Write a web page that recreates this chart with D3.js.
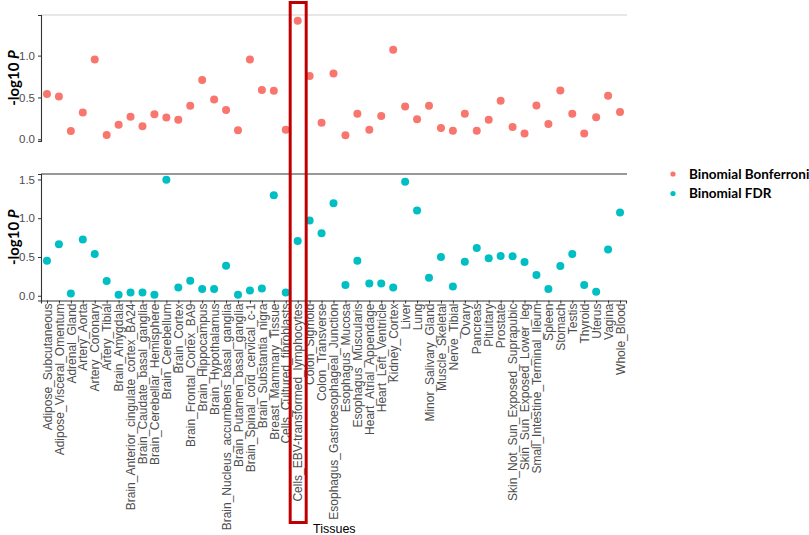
<!DOCTYPE html>
<html>
<head>
<meta charset="utf-8">
<script src="https://cdn.jsdelivr.net/npm/d3@7"></script>
<style>
  body { margin: 0; background: #fff; }
  svg { display: block; }
</style>
</head>
<body>
<svg id="chart"></svg>
<script>
// Tissue names along the x axis
const tissues = [
  "Adipose_Subcutaneous", "Adipose_Visceral_Omentum", "Adrenal_Gland", "Artery_Aorta",
  "Artery_Coronary", "Artery_Tibial", "Brain_Amygdala", "Brain_Anterior_cingulate_cortex_BA24",
  "Brain_Caudate_basal_ganglia", "Brain_Cerebellar_Hemisphere", "Brain_Cerebellum", "Brain_Cortex",
  "Brain_Frontal_Cortex_BA9", "Brain_Hippocampus", "Brain_Hypothalamus",
  "Brain_Nucleus_accumbens_basal_ganglia", "Brain_Putamen_basal_ganglia",
  "Brain_Spinal_cord_cervical_c-1", "Brain_Substantia_nigra", "Breast_Mammary_Tissue",
  "Cells_Cultured_fibroblasts", "Cells_EBV-transformed_lymphocytes", "Colon_Sigmoid",
  "Colon_Transverse", "Esophagus_Gastroesophageal_Junction", "Esophagus_Mucosa",
  "Esophagus_Muscularis", "Heart_Atrial_Appendage", "Heart_Left_Ventricle", "Kidney_Cortex",
  "Liver", "Lung", "Minor_Salivary_Gland", "Muscle_Skeletal", "Nerve_Tibial", "Ovary",
  "Pancreas", "Pituitary", "Prostate", "Skin_Not_Sun_Exposed_Suprapubic",
  "Skin_Sun_Exposed_Lower_leg", "Small_Intestine_Terminal_Ileum", "Spleen", "Stomach",
  "Testis", "Thyroid", "Uterus", "Vagina", "Whole_Blood"
];

// -log10 P, Binomial Bonferroni (top panel)
const bonferroni = [
  0.54, 0.51, 0.10, 0.32, 0.955, 0.05, 0.175, 0.27, 0.155, 0.30,
  0.26, 0.235, 0.40, 0.71, 0.476, 0.35, 0.107, 0.955, 0.59, 0.58,
  0.115, 1.417, 0.757, 0.198, 0.786, 0.048, 0.305, 0.115, 0.277, 1.07,
  0.393, 0.24, 0.40, 0.135, 0.103, 0.305, 0.103, 0.235, 0.46, 0.147,
  0.068, 0.405, 0.183, 0.584, 0.305, 0.068, 0.262, 0.52, 0.325
];

// -log10 P, Binomial FDR (bottom panel)
const fdr = [
  0.453, 0.664, 0.030, 0.724, 0.539, 0.19, 0.013, 0.043, 0.043, 0.013,
  1.496, 0.108, 0.194, 0.086, 0.086, 0.388, 0.013, 0.069, 0.095, 1.297,
  0.043, 0.707, 0.97, 0.806, 1.194, 0.138, 0.453, 0.159, 0.159, 0.108,
  1.47, 1.10, 0.233, 0.50, 0.121, 0.44, 0.616, 0.483, 0.513, 0.509,
  0.435, 0.267, 0.086, 0.384, 0.539, 0.138, 0.052, 0.595, 1.073
];

const yTicks = [0, 0.5, 1.0, 1.5];
const highlighted = "Cells_EBV-transformed_lymphocytes";
const seriesNames = ["Binomial Bonferroni", "Binomial FDR"];
const seriesColors = ["#F8766D", "#00BFC4"];

const W = 809, H = 535;
const svg = d3.select("#chart").attr("width", W).attr("height", H);

const left = 41, right = 626;
const panels = [
  { values: bonferroni, color: seriesColors[0], top: 15, bottom: 141, topLine: "#d0d0d0", xAxis: false },
  { values: fdr, color: seriesColors[1], top: 174, bottom: 300.5, topLine: "#333333", xAxis: true }
];

const x = d3.scalePoint().domain(tissues).range([left, right]).padding(0.5);

// ggplot-like 5% expansion of the data range
function expanded(vals) {
  const [lo, hi] = d3.extent(vals);
  const pad = (hi - lo) * 0.05;
  return [lo - pad, hi + pad];
}

const tickFont = "Liberation Sans, Arial, sans-serif";
const titleFont = "Lato, Open Sans, sans-serif";
const axisColor = "#333333";
const labelColor = "#4d4d4d";

panels.forEach(p => {
  const y = d3.scaleLinear().domain(expanded(p.values)).range([p.bottom, p.top]);
  const g = svg.append("g");

  // top border line of the panel
  g.append("line")
    .attr("x1", left).attr("x2", right + 1)
    .attr("y1", p.top).attr("y2", p.top)
    .attr("stroke", p.topLine).attr("stroke-width", 1.2);

  const dom = y.domain();
  const yAxis = g.append("g")
    .attr("transform", `translate(${left},0)`)
    .call(d3.axisLeft(y)
      .tickValues(yTicks.filter(t => t >= dom[0] && t <= dom[1]))
      .tickFormat(d3.format(".1f"))
      .tickSize(3).tickPadding(3));
  yAxis.select(".domain").attr("stroke", axisColor).attr("stroke-width", 1.1);
  yAxis.selectAll(".tick line").attr("stroke", axisColor);
  yAxis.selectAll(".tick text")
    .attr("fill", labelColor)
    .style("font-family", tickFont)
    .style("font-size", "11.5px");

  if (p.xAxis) {
    const xAxis = g.append("g")
      .attr("transform", `translate(0,${p.bottom})`)
      .call(d3.axisBottom(x).tickSize(3).tickPadding(2));
    xAxis.select(".domain").attr("stroke", axisColor).attr("stroke-width", 1.1);
    xAxis.selectAll(".tick line").attr("stroke", axisColor);
    xAxis.selectAll(".tick text")
      .attr("fill", labelColor)
      .style("font-family", tickFont)
      .style("font-size", "12px")
      .attr("text-anchor", "end")
      .attr("dy", "0.35em")
      .attr("transform", "translate(0,3) rotate(-90)")
      .attr("x", 0).attr("y", 0);
  }

  // y axis title: -log10 P
  const midY = (p.top + p.bottom) / 2;
  const title = g.append("text")
    .attr("transform", `translate(19,${midY}) rotate(-90)`)
    .attr("text-anchor", "middle")
    .style("font-family", titleFont)
    .style("font-size", "15px")
    .style("font-weight", "bold")
    .attr("fill", "#000");
  title.append("tspan").text("-log10 ");
  title.append("tspan").style("font-style", "italic").text("P");

  g.append("g").selectAll("circle")
    .data(p.values)
    .join("circle")
    .attr("cx", (d, i) => x(tissues[i]))
    .attr("cy", d => y(d))
    .attr("r", 4)
    .attr("fill", p.color);
});

// x axis title
svg.append("text")
  .attr("x", 313).attr("y", 533)
  .style("font-family", tickFont)
  .style("font-size", "12.5px")
  .attr("fill", "#000")
  .text("Tissues");

// legend
const legend = svg.append("g").attr("transform", "translate(673,174)");
seriesNames.forEach((name, i) => {
  const row = legend.append("g").attr("transform", `translate(0,${i * 19.5})`);
  row.append("circle").attr("r", 2.6).attr("fill", seriesColors[i]);
  row.append("text")
    .attr("x", 16).attr("dy", "0.35em")
    .style("font-family", titleFont)
    .style("font-size", "13.5px")
    .style("font-weight", "bold")
    .attr("fill", "#000")
    .text(name);
});

// red highlight box around the EBV lymphocytes column
const hx = x(highlighted);
svg.append("rect")
  .attr("x", hx - 7.5).attr("y", 2.5)
  .attr("width", 16).attr("height", 520)
  .attr("fill", "none")
  .attr("stroke", "#C00000")
  .attr("stroke-width", 3);
</script>
</body>
</html>
